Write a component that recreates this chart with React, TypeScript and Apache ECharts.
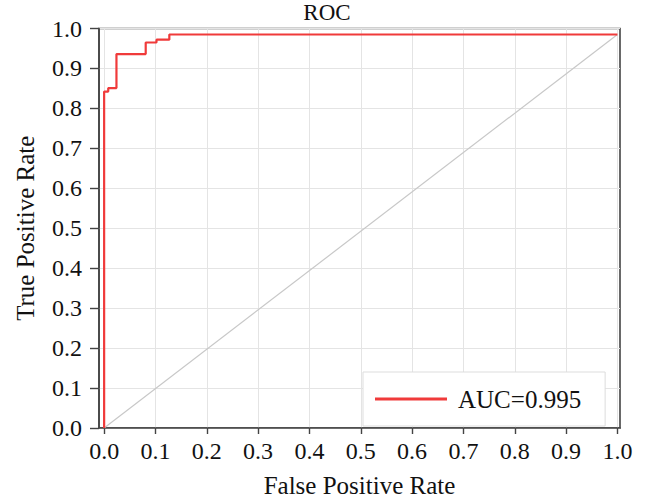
import React, { useEffect, useRef } from "react";
import * as echarts from "echarts";

const fpr = [0, 0, 0.008, 0.008, 0.024, 0.024, 0.081, 0.081, 0.102, 0.102, 0.127, 0.127, 1.0];
const tpr = [0, 0.842, 0.842, 0.851, 0.851, 0.936, 0.936, 0.965, 0.965, 0.972, 0.972, 0.985, 0.985];
const diagX = [0, 1.0];
const diagY = [0, 0.985];
const tickValues = [0, 0.1, 0.2, 0.3, 0.4, 0.5, 0.6, 0.7, 0.8, 0.9, 1.0];
const legendLabel = "AUC=0.995";
const titleText = "ROC";
const xName = "False Positive Rate";
const yName = "True Positive Rate";

const FONT = "'Liberation Serif', 'Times New Roman', serif";

export default function App() {
  const ref = useRef<HTMLDivElement>(null);
  useEffect(() => {
    if (!ref.current) return;
    const chart = echarts.init(ref.current, undefined, { renderer: "svg" });
    const rocData = fpr.map((x, i) => [x, tpr[i]]);
    const diagData = diagX.map((x, i) => [x, diagY[i]]);
    chart.setOption({
      animation: false,
      backgroundColor: "#ffffff",
      title: {
        text: titleText,
        left: 327,
        top: 1,
        textAlign: "center",
        padding: 0,
        textStyle: { fontFamily: FONT, fontSize: 23, fontWeight: "normal", color: "#111" },
      },
      grid: {
        left: 99,
        right: 26,
        top: 28.5,
        bottom: 70.3,
        show: true,
        borderColor: "#444",
        borderWidth: 1.6,
        backgroundColor: "transparent",
      },
      legend: {
        data: [{ name: legendLabel, icon: "rect" }],
        left: 363,
        top: 372,
        orient: "horizontal",
        padding: [14, 24, 14, 12],
        itemWidth: 72,
        itemHeight: 3,
        backgroundColor: "#ffffff",
        borderColor: "#dddddd",
        borderWidth: 1,
        borderRadius: 0,
        textStyle: {
          fontFamily: FONT,
          fontSize: 25,
          color: "#111",
          lineHeight: 26,
          padding: [0, 0, 0, 6],
        },
      },
      xAxis: {
        type: "value",
        min: -0.01,
        max: 1.005,
        name: xName,
        nameLocation: "middle",
        nameGap: 45,
        nameTextStyle: { fontFamily: FONT, fontSize: 25, color: "#111" },
        axisLine: { show: true, onZero: false, lineStyle: { color: "#444", width: 1.6 } },
        axisTick: {
          show: true,
          length: 6,
          customValues: tickValues,
          lineStyle: { color: "#444", width: 1.4 },
        },
        axisLabel: {
          customValues: tickValues,
          margin: 11,
          fontFamily: FONT,
          fontSize: 24,
          color: "#111",
          formatter: (v: number) => v.toFixed(1),
        },
        splitLine: { show: true, lineStyle: { color: "#e4e4e4", width: 1 } },
      },
      yAxis: {
        type: "value",
        min: 0,
        max: 1,
        interval: 0.1,
        name: yName,
        nameLocation: "middle",
        nameGap: 61,
        nameRotate: 90,
        nameTextStyle: { fontFamily: FONT, fontSize: 25, color: "#111" },
        axisLine: { show: true, onZero: false, lineStyle: { color: "#444", width: 1.6 } },
        axisTick: { show: true, length: 9, lineStyle: { color: "#444", width: 1.4 } },
        axisLabel: {
          margin: 17,
          fontFamily: FONT,
          fontSize: 24,
          color: "#111",
          formatter: (v: number) => v.toFixed(1),
        },
        splitLine: { show: true, lineStyle: { color: "#e4e4e4", width: 1 } },
      },
      series: [
        {
          name: "diag",
          type: "line",
          data: diagData,
          symbol: "none",
          lineStyle: { color: "#c8c8c8", width: 1.2 },
          z: 2,
        },
        {
          name: legendLabel,
          type: "line",
          data: rocData,
          symbol: "none",
          color: "#f03a3a",
          lineStyle: { color: "#f03a3a", width: 2.2 },
          z: 3,
        },
      ],
    });
    return () => chart.dispose();
  }, []);
  return (
    <div
      ref={ref}
      style={{ position: "fixed", left: 0, top: 0, width: 646, height: 503 }}
    />
  );
}
